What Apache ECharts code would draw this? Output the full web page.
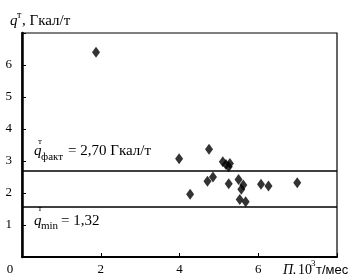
<!DOCTYPE html>
<html><head><meta charset="utf-8">
<script src="https://cdn.jsdelivr.net/npm/echarts@6/dist/echarts.min.js"></script>
<style>html,body{margin:0;padding:0;background:#fff}#c{width:360px;height:279px}</style>
</head><body><div id="c"></div>
<script>
const xValues = [1.88, 3.99, 4.27, 4.71, 4.75, 4.85, 5.10, 5.18, 5.25, 5.28, 5.25, 5.50, 5.62, 5.57, 5.53, 5.68, 6.07, 6.26, 6.99];
const yValues = [6.40, 3.07, 1.96, 2.37, 3.37, 2.50, 2.98, 2.89, 2.82, 2.92, 2.29, 2.42, 2.25, 2.12, 1.80, 1.73, 2.27, 2.22, 2.32];
const qFakt = 2.70;
const qMinLine = 1.57;
const xTicks = [0, 2, 4, 6];
const yTicks = [1, 2, 3, 4, 5, 6];
const F = "'Liberation Serif','DejaVu Serif',serif";
const S = "'Liberation Sans','DejaVu Sans',sans-serif";
const points = xValues.map((x, i) => [x, yValues[i]]);
function t(left, top, text, size, family) {
  return {type: 'text', left: left, top: top,
    style: {text: text, fontFamily: family || F, fontSize: size, fill: '#000'}};
}
function it(left, top, text, size) {
  const o = t(left, top, text, size); o.style.fontStyle = 'italic'; return o;
}
const chart = echarts.init(document.getElementById('c'));
chart.setOption({
  animation: false,
  backgroundColor: '#fff',
  grid: {left: 22, right: 23, top: 33, bottom: 22, show: true, borderColor: '#000', borderWidth: 1.2},
  xAxis: {
    type: 'value', min: 0, max: 8, interval: 2,
    axisLine: {show: true, onZero: false, lineStyle: {color: '#000', width: 2}},
    axisTick: {show: true, inside: true, length: 4, lineStyle: {color: '#000', width: 1}},
    splitLine: {show: false},
    axisLabel: {
      color: '#000', fontFamily: F, fontSize: 13, margin: 6,
      formatter: v => xTicks.includes(v) ? (v === 0 ? '{z|0}' : String(v)) : '',
      rich: {z: {fontFamily: F, fontSize: 13, color: '#000', padding: [0, 24, 0, 0]}}
    }
  },
  yAxis: {
    type: 'value', min: 0, max: 7, interval: 1,
    axisLine: {show: true, onZero: false, lineStyle: {color: '#000', width: 2.5}},
    axisTick: {show: true, inside: true, length: 4, lineStyle: {color: '#000', width: 1}},
    splitLine: {show: false},
    axisLabel: {color: '#000', fontFamily: F, fontSize: 13, margin: 10,
      formatter: v => yTicks.includes(v) ? String(v) : ''}
  },
  series: [{
    type: 'scatter', symbol: 'diamond', symbolSize: [8, 11],
    itemStyle: {color: '#000'}, data: points,
    markLine: {
      silent: true, symbol: 'none', label: {show: false},
      lineStyle: {color: '#000', width: 1.6, type: 'solid'},
      data: [{yAxis: qFakt}, {yAxis: qMinLine}]
    }
  }],
  graphic: [
    it(10, 14, 'q', 15),
    t(17, 10, 'т', 10),
    t(22, 14, ', Гкал/т', 15),

    it(34, 144, 'q', 15),
    t(38, 137, 'т', 9),
    t(41, 152, 'факт', 11),
    t(68, 144, '= 2,70 Гкал/т', 15),

    it(34, 214, 'q', 15),
    t(38, 204, 'т', 9),
    t(41, 221, 'min', 11),
    t(61, 214, '= 1,32', 15),

    it(283, 263, 'П.', 14),
    t(298, 263, '10', 14),
    t(311, 259, '3', 9),
    t(316, 264, 'т/мес', 13, S)
  ]
});
</script></body></html>
